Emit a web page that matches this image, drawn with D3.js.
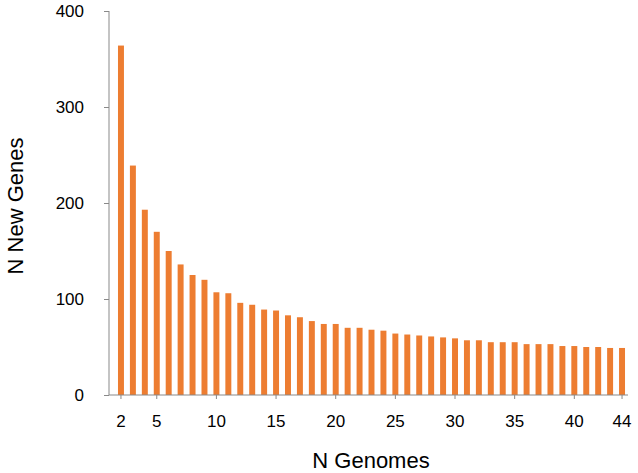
<!DOCTYPE html>
<html>
<head>
<meta charset="utf-8">
<script src="https://cdn.jsdelivr.net/npm/d3@7"></script>
<style>
  body { margin: 0; background: #fff; }
  svg { display: block; font-family: "Liberation Sans", Arial, sans-serif; }
  .axis text { fill: #000; font-size: 17px; font-family: "Liberation Sans", Arial, sans-serif; }
  .axis line { stroke: #898989; }
  .axisTitle { font-size: 22px; fill: #000; }
</style>
</head>
<body>
<svg id="chart" width="638" height="473"></svg>
<script>
"use strict";
// N genomes (categories) and new genes found at each step
var genomes = d3.range(2, 45);
var newGenes = [364, 239, 193, 170, 150, 136, 125, 120, 107, 106, 96, 94, 89, 88,
    83, 81, 77, 74, 74, 70, 70, 68, 67, 64, 63, 62, 61, 60, 59, 57, 57, 55, 55, 55,
    53, 53, 53, 51, 51, 50, 50, 49, 49];
var xTicks = [2, 5, 10, 15, 20, 25, 30, 35, 40, 44];
var yTicks = [0, 100, 200, 300, 400];

var margin = {top: 11, right: 10, bottom: 78, left: 109};
var svg = d3.select("#chart");
var width = +svg.attr("width") - margin.left - margin.right;
var height = +svg.attr("height") - margin.top - margin.bottom;

var g = svg.append("g")
    .attr("transform", "translate(" + margin.left + "," + margin.top + ")");

var x = d3.scaleBand()
    .domain(genomes)
    .range([6, width])
    .paddingInner(0.5)
    .paddingOuter(0.25);

var y = d3.scaleLinear()
    .domain([0, 400])
    .range([height, 0]);

g.selectAll(".bar")
    .data(genomes)
  .enter().append("rect")
    .attr("class", "bar")
    .attr("x", function (d) { return x(d); })
    .attr("width", x.bandwidth())
    .attr("y", function (d, i) { return y(newGenes[i]); })
    .attr("height", function (d, i) { return height - y(newGenes[i]); })
    .style("fill", "#ED7D31");

var yAxis = g.append("g")
    .attr("class", "axis")
    .call(d3.axisLeft(y).tickValues(yTicks).tickSize(5).tickSizeOuter(0).tickPadding(20));
yAxis.select(".domain").remove();

var xAxis = g.append("g")
    .attr("class", "axis")
    .attr("transform", "translate(0," + height + ")")
    .call(d3.axisBottom(x).tickValues(xTicks).tickSize(4).tickSizeOuter(0).tickPadding(16));
xAxis.select(".domain").remove();

// axis lines
g.append("line")
    .attr("x1", 0).attr("x2", 0)
    .attr("y1", y(400)).attr("y2", height)
    .style("stroke", "#898989");
g.append("line")
    .attr("x1", 0).attr("x2", width)
    .attr("y1", height).attr("y2", height)
    .style("stroke", "#898989");

svg.append("text")
    .attr("class", "axisTitle")
    .attr("text-anchor", "middle")
    .attr("transform", "translate(23,206) rotate(-90)")
    .text("N New Genes");

svg.append("text")
    .attr("class", "axisTitle")
    .attr("text-anchor", "middle")
    .attr("x", 371)
    .attr("y", 468)
    .text("N Genomes");
</script>
</body>
</html>
